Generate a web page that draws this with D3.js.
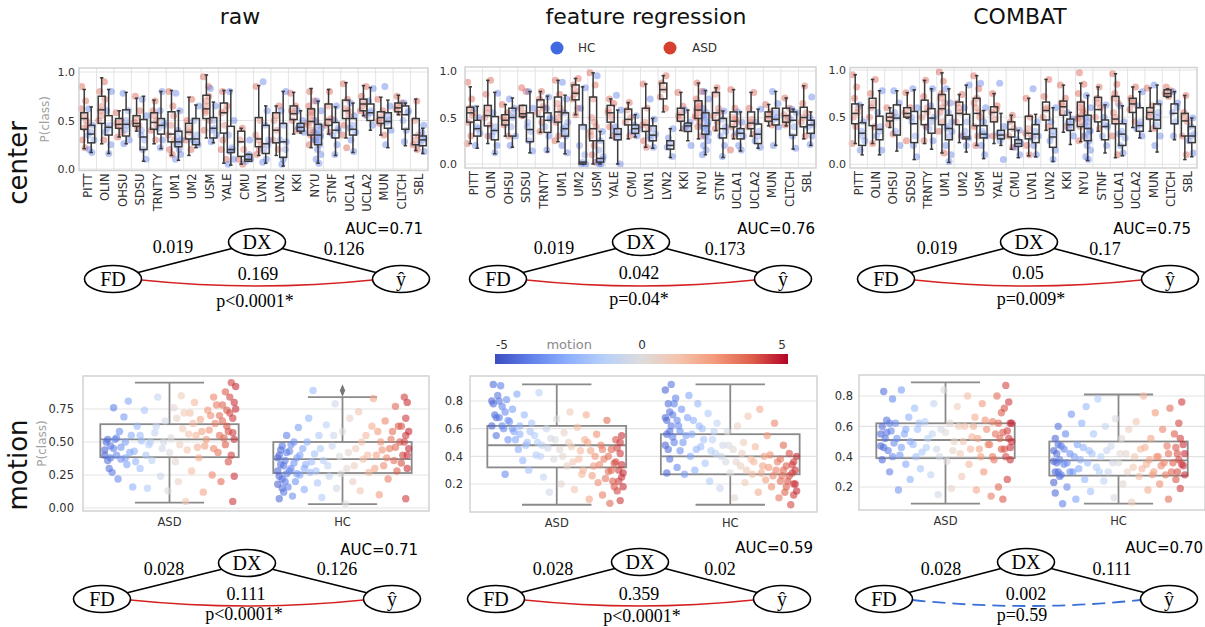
<!DOCTYPE html>
<html><head><meta charset="utf-8">
<script src="https://cdn.jsdelivr.net/npm/d3@7"></script>
<style>body{margin:0;background:#fff}svg{display:block}</style>
</head><body><svg id="c" width="1205" height="627"></svg>
<script>
// ---------------- DATA ----------------
const sites = ["PITT","OLIN","OHSU","SDSU","TRNTY","UM1","UM2","USM","YALE","CMU","LVN1","LVN2","KKI","NYU","STNF","UCLA1","UCLA2","MUN","CLTCH","SBL"];
const groups = ["ASD","HC"];
const panelTitles = ["raw","feature regression","COMBAT"];
const rowLabels = ["center","motion"];
const topTicks = [0,0.5,1.0];
const rawTicks = [0,0.25,0.5,0.75];
const corrTicks = [0.2,0.4,0.6,0.8];
const motionTicks = [-5,0,5];

// box stats per site: [min, q1, median, q3, max]
const rawASD = [[0.21,0.41,0.52,0.58,0.82],[0.26,0.47,0.61,0.75,0.94],[0.33,0.42,0.46,0.52,0.60],[0.39,0.44,0.47,0.55,0.73],[0.26,0.41,0.48,0.58,0.71],[0.14,0.28,0.36,0.59,0.81],[0.14,0.31,0.38,0.47,0.74],[0.32,0.52,0.62,0.76,0.97],[0.06,0.37,0.58,0.68,0.81],[0.05,0.13,0.28,0.39,0.42],[0.14,0.23,0.31,0.53,0.86],[0.14,0.27,0.40,0.58,0.65],[0.36,0.51,0.57,0.65,0.79],[0.22,0.35,0.49,0.62,0.83],[0.36,0.45,0.51,0.67,0.82],[0.32,0.52,0.60,0.71,0.89],[0.55,0.60,0.67,0.72,0.86],[0.35,0.47,0.53,0.59,0.74],[0.56,0.59,0.63,0.68,0.76],[0.19,0.25,0.35,0.52,0.72]];
const rawHC = [[0.17,0.27,0.36,0.45,0.64],[0.16,0.35,0.43,0.55,0.82],[0.26,0.34,0.46,0.61,0.79],[0.08,0.20,0.33,0.51,0.75],[0.21,0.36,0.45,0.52,0.80],[0.09,0.23,0.28,0.39,0.60],[0.22,0.25,0.31,0.52,0.66],[0.27,0.32,0.42,0.53,0.69],[0.04,0.17,0.20,0.44,0.81],[0.08,0.08,0.10,0.15,0.15],[0.06,0.16,0.26,0.45,0.65],[0.03,0.12,0.28,0.47,0.80],[0.37,0.39,0.43,0.47,0.60],[0.06,0.25,0.35,0.46,0.70],[0.14,0.32,0.40,0.48,0.64],[0.17,0.35,0.41,0.52,0.68],[0.40,0.50,0.58,0.67,0.84],[0.22,0.42,0.49,0.58,0.71],[0.24,0.41,0.56,0.65,0.68],[0.16,0.24,0.30,0.34,0.42]];
const featASD = [[0.22,0.45,0.55,0.61,0.83],[0.22,0.41,0.52,0.63,0.90],[0.30,0.42,0.47,0.53,0.64],[0.50,0.51,0.54,0.63,0.63],[0.34,0.51,0.61,0.69,0.78],[0.24,0.45,0.56,0.72,0.90],[0.53,0.69,0.76,0.85,0.92],[0.00,0.25,0.38,0.72,0.98],[0.28,0.45,0.55,0.63,0.70],[0.27,0.42,0.48,0.59,0.66],[0.18,0.35,0.42,0.60,0.86],[0.56,0.70,0.80,0.87,0.95],[0.36,0.46,0.53,0.60,0.77],[0.27,0.49,0.58,0.68,0.87],[0.36,0.47,0.55,0.77,0.82],[0.27,0.40,0.46,0.56,0.80],[0.30,0.38,0.44,0.56,0.77],[0.41,0.46,0.51,0.56,0.64],[0.41,0.45,0.52,0.60,0.71],[0.27,0.40,0.50,0.61,0.84]];
const featHC = [[0.17,0.30,0.38,0.47,0.62],[0.11,0.26,0.36,0.51,0.77],[0.18,0.30,0.50,0.60,0.71],[0.12,0.24,0.37,0.55,0.78],[0.13,0.34,0.47,0.55,0.73],[0.11,0.30,0.38,0.55,0.74],[0.00,0.00,0.02,0.42,0.83],[0.00,0.02,0.06,0.25,0.35],[0.00,0.26,0.32,0.38,0.58],[0.29,0.33,0.38,0.42,0.53],[0.17,0.25,0.31,0.41,0.49],[0.07,0.16,0.20,0.25,0.38],[0.25,0.35,0.41,0.44,0.58],[0.10,0.32,0.41,0.55,0.79],[0.07,0.28,0.38,0.49,0.57],[0.14,0.27,0.33,0.38,0.56],[0.17,0.22,0.32,0.43,0.59],[0.20,0.42,0.48,0.60,0.78],[0.16,0.31,0.47,0.56,0.59],[0.20,0.33,0.42,0.47,0.56]];
const combatASD = [[0.22,0.43,0.54,0.64,0.95],[0.22,0.41,0.60,0.70,0.90],[0.39,0.46,0.50,0.54,0.60],[0.49,0.50,0.54,0.60,0.76],[0.22,0.42,0.56,0.68,0.89],[0.12,0.42,0.59,0.74,0.97],[0.23,0.42,0.54,0.66,0.74],[0.20,0.41,0.54,0.70,0.94],[0.22,0.45,0.55,0.61,0.75],[0.16,0.29,0.37,0.45,0.52],[0.09,0.27,0.33,0.51,0.70],[0.36,0.47,0.57,0.66,0.90],[0.34,0.52,0.61,0.67,0.84],[0.24,0.40,0.51,0.66,0.86],[0.35,0.45,0.58,0.71,0.82],[0.07,0.43,0.48,0.72,0.96],[0.39,0.55,0.64,0.70,0.82],[0.35,0.48,0.55,0.60,0.81],[0.71,0.72,0.75,0.79,0.80],[0.05,0.30,0.46,0.54,0.73]];
const combatHC = [[0.10,0.20,0.33,0.44,0.63],[0.10,0.26,0.37,0.51,0.78],[0.14,0.31,0.49,0.63,0.78],[0.05,0.23,0.43,0.56,0.79],[0.16,0.33,0.49,0.59,0.80],[0.02,0.26,0.38,0.52,0.80],[0.13,0.27,0.29,0.53,0.84],[0.06,0.28,0.32,0.41,0.57],[0.20,0.27,0.31,0.36,0.54],[0.07,0.19,0.22,0.26,0.36],[0.08,0.23,0.32,0.42,0.53],[0.03,0.18,0.29,0.38,0.60],[0.21,0.36,0.42,0.48,0.55],[0.04,0.25,0.38,0.52,0.73],[0.12,0.26,0.40,0.47,0.63],[0.09,0.20,0.32,0.43,0.62],[0.28,0.35,0.41,0.60,0.77],[0.13,0.38,0.47,0.64,0.84],[0.26,0.43,0.54,0.64,0.77],[0.08,0.23,0.30,0.40,0.49]];

// individual subject points per site (P(class))
const rawASDpts = [[0.85,0.7,0.55,0.45,0.3,0.22,0.62,0.5,0.42],[0.9,0.8,0.65,0.5,0.3,0.55,0.6,0.72],[0.58,0.5,0.44,0.33,0.38,0.47],[0.75,0.6,0.48,0.42,0.52,0.45],[0.7,0.6,0.5,0.4,0.3,0.55,0.45],[0.8,0.65,0.45,0.3,0.2,0.15,0.35,0.55],[0.72,0.5,0.38,0.3,0.2,0.42],[0.95,0.85,0.7,0.6,0.5,0.4,0.65,0.58,0.75],[0.8,0.65,0.58,0.45,0.3,0.1,0.2,0.6],[0.42,0.3,0.2,0.1,0.05],[0.85,0.5,0.3,0.25,0.15,0.2,0.35],[0.65,0.5,0.4,0.3,0.2,0.55],[0.78,0.65,0.58,0.5,0.4,0.6],[0.8,0.7,0.65,0.6,0.55,0.5,0.45,0.4,0.35,0.3,0.25,0.58,0.48,0.38],[0.8,0.65,0.52,0.45,0.38,0.5],[0.88,0.72,0.62,0.55,0.45,0.22,0.35,0.6],[0.85,0.75,0.68,0.6,0.56,0.65],[0.72,0.6,0.53,0.47,0.35,0.5],[0.75,0.68,0.62,0.58,0.65],[0.7,0.5,0.35,0.25,0.2,0.3]];
const rawHCpts = [[0.62,0.45,0.38,0.3,0.2,0.17,0.35],[0.8,0.6,0.45,0.38,0.25,0.16,0.42],[0.78,0.6,0.5,0.4,0.3,0.26,0.45],[0.72,0.55,0.4,0.3,0.2,0.1,0.35],[0.8,0.6,0.48,0.42,0.3,0.22,0.45],[0.78,0.6,0.4,0.3,0.25,0.2,0.1,0.15,0.28,0.33],[0.65,0.5,0.35,0.3,0.25,0.28],[0.83,0.65,0.5,0.4,0.35,0.28,0.42],[0.8,0.5,0.35,0.22,0.18,0.1,0.05,0.2],[0.15,0.12,0.1,0.08,0.3],[0.9,0.6,0.45,0.3,0.2,0.1,0.07,0.25],[0.8,0.6,0.45,0.3,0.2,0.1,0.05,0.28],[0.6,0.5,0.45,0.42,0.38,0.43],[0.7,0.6,0.5,0.45,0.4,0.35,0.3,0.25,0.2,0.15,0.1,0.06,0.38,0.33,0.28,0.36,0.42,0.3],[0.65,0.5,0.42,0.35,0.25,0.15,0.4],[0.68,0.55,0.45,0.38,0.3,0.18,0.42],[0.83,0.7,0.6,0.55,0.45,0.58],[0.85,0.65,0.55,0.48,0.4,0.25,0.5],[0.68,0.6,0.5,0.4,0.28,0.58],[0.45,0.38,0.32,0.26,0.18,0.3]];
const featASDpts = [[0.88,0.7,0.6,0.55,0.45,0.3,0.22,0.52],[0.9,0.75,0.6,0.5,0.42,0.3,0.55],[0.64,0.55,0.47,0.42,0.3,0.5],[0.82,0.78,0.6,0.54,0.52],[0.78,0.7,0.62,0.55,0.45,0.35,0.6],[0.9,0.75,0.65,0.55,0.45,0.3,0.25,0.6,0.5],[0.92,0.85,0.78,0.7,0.6,0.53,0.75],[0.98,0.85,0.7,0.5,0.4,0.3,0.2,0.1,0.02,0.35,0.45],[0.7,0.65,0.58,0.5,0.4,0.3,0.55],[0.66,0.58,0.5,0.45,0.3],[0.86,0.6,0.45,0.38,0.25,0.18,0.42],[0.95,0.87,0.8,0.72,0.6],[0.77,0.62,0.55,0.48,0.38,0.52],[0.87,0.78,0.7,0.65,0.6,0.55,0.5,0.45,0.4,0.3,0.58,0.62,0.52],[0.82,0.75,0.6,0.52,0.45,0.38,0.55],[0.8,0.6,0.5,0.45,0.4,0.3,0.15,0.48],[0.77,0.6,0.48,0.4,0.32,0.45],[0.64,0.56,0.52,0.48,0.42],[0.71,0.6,0.53,0.47,0.42,0.5],[0.84,0.65,0.55,0.45,0.3,0.5]];
const featHCpts = [[0.6,0.5,0.4,0.33,0.2,0.38],[0.76,0.55,0.4,0.3,0.2,0.12,0.35],[0.7,0.6,0.5,0.4,0.3,0.2,0.55],[0.78,0.6,0.45,0.35,0.25,0.14,0.4],[0.72,0.6,0.5,0.4,0.3,0.15,0.48],[0.88,0.7,0.55,0.45,0.38,0.3,0.2,0.12,0.4,0.35],[0.82,0.6,0.4,0.2,0.1,0.02,0.0,0.0],[0.95,0.35,0.25,0.15,0.08,0.03,0.0,0.0,0.05],[0.74,0.58,0.4,0.33,0.28,0.0,0.35],[0.52,0.42,0.38,0.35,0.3],[0.7,0.48,0.38,0.32,0.27,0.18,0.3],[0.38,0.28,0.22,0.18,0.08],[0.58,0.45,0.42,0.38,0.2,0.4],[0.78,0.7,0.6,0.55,0.5,0.45,0.4,0.36,0.3,0.25,0.2,0.15,0.1,0.42,0.38,0.48,0.33,0.52],[0.57,0.48,0.4,0.3,0.2,0.08,0.35],[0.56,0.45,0.36,0.3,0.2,0.15,0.33],[0.59,0.45,0.35,0.25,0.18,0.3],[0.78,0.65,0.55,0.48,0.4,0.2,0.5],[0.59,0.55,0.48,0.4,0.3,0.17],[0.72,0.5,0.45,0.4,0.3,0.21,0.42]];
const combatASDpts = [[0.95,0.82,0.7,0.6,0.5,0.4,0.22,0.55],[0.9,0.75,0.65,0.5,0.4,0.22,0.6],[0.6,0.52,0.48,0.42,0.32],[0.76,0.6,0.55,0.51,0.25],[0.89,0.72,0.6,0.5,0.4,0.25,0.55],[0.98,0.88,0.75,0.65,0.55,0.45,0.35,0.12,0.6,0.7],[0.74,0.65,0.55,0.45,0.3,0.6],[0.94,0.8,0.7,0.6,0.5,0.4,0.3,0.2,0.55,0.65],[0.75,0.62,0.55,0.48,0.3,0.58],[0.52,0.45,0.38,0.3,0.18],[0.7,0.5,0.38,0.3,0.2,0.1,0.33],[0.9,0.72,0.6,0.5,0.4,0.58],[0.84,0.7,0.62,0.55,0.4,0.65],[0.97,0.85,0.75,0.65,0.6,0.55,0.5,0.45,0.4,0.3,0.25,0.52,0.48,0.58],[0.82,0.7,0.6,0.5,0.38,0.65],[0.96,0.85,0.75,0.65,0.55,0.45,0.3,0.1,0.5,0.7],[0.82,0.7,0.64,0.58,0.45,0.66],[0.81,0.62,0.55,0.5,0.38],[0.82,0.78,0.75,0.72],[0.73,0.55,0.45,0.3,0.1,0.5]];
const combatHCpts = [[0.63,0.45,0.35,0.25,0.15,0.3],[0.78,0.55,0.4,0.3,0.15,0.35],[0.78,0.65,0.5,0.35,0.2,0.55],[0.8,0.6,0.45,0.3,0.2,0.08,0.5],[0.8,0.62,0.5,0.38,0.25,0.45],[0.8,0.65,0.55,0.45,0.38,0.3,0.2,0.1,0.03,0.4,0.35],[0.84,0.6,0.45,0.3,0.28,0.2,0.35],[0.86,0.6,0.45,0.35,0.3,0.2,0.1,0.32],[0.86,0.4,0.33,0.3,0.25,0.05],[0.36,0.26,0.22,0.18,0.1],[0.8,0.45,0.35,0.3,0.2,0.1,0.28],[0.6,0.45,0.35,0.25,0.15,0.05,0.3],[0.55,0.48,0.42,0.38,0.3,0.44],[0.73,0.6,0.5,0.45,0.4,0.35,0.3,0.25,0.2,0.15,0.08,0.05,0.42,0.36,0.32,0.48],[0.63,0.5,0.4,0.3,0.2,0.42],[0.62,0.45,0.35,0.28,0.2,0.12,0.32],[0.77,0.62,0.45,0.38,0.3,0.42],[0.84,0.65,0.5,0.42,0.3,0.2,0.55],[0.77,0.65,0.55,0.45,0.3,0.6],[0.49,0.4,0.32,0.25,0.12,0.3]];

// motion row: box stats [min,q1,med,q3,max] for ASD, HC
const rawMotionBox = [[0.04,0.385,0.52,0.635,0.95],[0.03,0.265,0.37,0.50,0.84]];
const featMotionBox = [[0.05,0.32,0.48,0.62,0.92],[0.05,0.27,0.40,0.56,0.92]];
const combatMotionBox = [[0.09,0.39,0.51,0.62,0.89],[0.09,0.275,0.375,0.50,0.81]];
const rawMotionOutliers = [[], [0.89]];
// motion row subjects: [motion, P(class)]
const rawMotionASD = [[-4.4,0.44],[-4.3,0.50],[-4.2,0.36],[-4.1,0.30],[-4.0,0.47],[-3.9,0.27],[-3.8,0.76],[-3.7,0.52],[-3.6,0.40],[-3.5,0.22],[-3.4,0.58],[-3.3,0.46],[-3.1,0.69],[-3.0,0.38],[-2.9,0.33],[-2.8,0.81],[-2.6,0.55],[-2.5,0.16],[-2.4,0.43],[-2.2,0.62],[-2.0,0.30],[-1.9,0.51],[-1.7,0.74],[-1.5,0.15],[-1.4,0.48],[-1.2,0.36],[-1.0,0.57],[-0.8,0.84],[-0.6,0.24],[-0.5,0.45],[-0.3,0.66],[-0.1,0.13],[0.1,0.53],[0.3,0.76],[0.4,0.35],[0.6,0.20],[0.8,0.85],[0.9,0.60],[1.1,0.05],[1.2,0.44],[1.4,0.72],[1.5,0.28],[1.7,0.80],[1.8,0.55],[2.0,0.38],[2.1,0.67],[2.3,0.12],[2.4,0.47],[2.6,0.74],[2.7,0.59],[2.9,0.25],[3.0,0.84],[3.1,0.64],[3.3,0.42],[3.4,0.70],[3.5,0.20],[3.6,0.78],[3.7,0.53],[3.8,0.88],[3.9,0.62],[4.0,0.35],[4.1,0.72],[4.2,0.95],[4.3,0.05],[4.3,0.57],[4.4,0.80],[4.4,0.24],[4.5,0.92],
  [-4.4,0.40],[-4.2,0.52],[-4.0,0.38],[-3.8,0.45],[-3.6,0.53],[-3.3,0.37],[-3.0,0.50],[-2.7,0.42],[-2.3,0.35],[-2.0,0.55],[-1.6,0.40],[-1.3,0.50],[-0.9,0.62],[-0.4,0.50],[0.0,0.42],[0.5,0.68],[0.7,0.48],[1.0,0.72],[1.3,0.56],[1.6,0.64],[1.9,0.46],[2.2,0.58],[2.5,0.52],[2.8,0.70],[3.0,0.45],[3.2,0.78],[3.4,0.55],[3.6,0.66],[3.8,0.48],[3.9,0.74],[4.0,0.58],[4.1,0.84],[4.2,0.40],[4.3,0.68],[4.4,0.52],[4.5,0.75]];
const rawMotionHC = [[-4.4,0.28],[-4.4,0.18],[-4.3,0.40],[-4.3,0.07],[-4.2,0.33],[-4.1,0.22],[-4.1,0.47],[-4.0,0.12],[-3.9,0.36],[-3.8,0.26],[-3.8,0.55],[-3.7,0.16],[-3.6,0.43],[-3.5,0.30],[-3.4,0.09],[-3.3,0.50],[-3.2,0.20],[-3.1,0.38],[-3.0,0.61],[-2.9,0.25],[-2.7,0.45],[-2.6,0.14],[-2.5,0.33],[-2.3,0.68],[-2.2,0.27],[-2.0,0.89],[-1.9,0.41],[-1.7,0.19],[-1.6,0.55],[-1.4,0.08],[-1.3,0.36],[-1.1,0.63],[-0.9,0.24],[-0.7,0.47],[-0.5,0.79],[-0.4,0.15],[-0.2,0.39],[0.0,0.58],[0.2,0.03],[0.3,0.30],[0.5,0.68],[0.7,0.20],[0.9,0.45],[1.1,0.73],[1.2,0.13],[1.4,0.37],[1.6,0.55],[1.8,0.27],[2.0,0.62],[2.1,0.83],[2.3,0.40],[2.5,0.10],[2.6,0.50],[2.8,0.32],[2.9,0.66],[3.1,0.22],[3.2,0.45],[3.4,0.58],[3.5,0.36],[3.6,0.77],[3.7,0.28],[3.9,0.50],[4.0,0.62],[4.1,0.40],[4.2,0.84],[4.3,0.07],[4.3,0.55],[4.4,0.30],[4.4,0.80],[4.5,0.45],
  [-4.4,0.38],[-4.3,0.24],[-4.2,0.44],[-4.1,0.15],[-4.0,0.32],[-3.9,0.20],[-3.8,0.42],[-3.6,0.28],[-3.5,0.48],[-3.3,0.34],[-3.1,0.26],[-2.9,0.40],[-2.6,0.30],[-2.4,0.50],[-2.1,0.35],[-1.8,0.28],[-1.5,0.45],[-1.0,0.32],[-0.6,0.55],[-0.1,0.26],[0.4,0.42],[0.8,0.32],[1.3,0.50],[1.7,0.40],[2.2,0.30],[2.4,0.58],[2.7,0.44],[3.0,0.38],[3.3,0.52],[3.6,0.46],[3.8,0.62],[4.0,0.34],[4.2,0.50],[4.3,0.68],[4.4,0.40],[4.5,0.58]];
const featMotionASD = [[-4.4,0.80],[-4.4,0.62],[-4.3,0.92],[-4.2,0.70],[-4.1,0.55],[-4.0,0.84],[-3.9,0.68],[-3.8,0.91],[-3.7,0.76],[-3.6,0.60],[-3.5,0.27],[-3.4,0.81],[-3.3,0.52],[-3.2,0.65],[-3.0,0.74],[-2.9,0.58],[-2.7,0.85],[-2.6,0.45],[-2.5,0.62],[-2.3,0.37],[-2.2,0.70],[-2.0,0.50],[-1.9,0.30],[-1.7,0.64],[-1.5,0.55],[-1.4,0.41],[-1.2,0.86],[-1.0,0.48],[-0.9,0.25],[-0.7,0.60],[-0.5,0.14],[-0.4,0.53],[-0.2,0.38],[0.0,0.67],[0.2,0.45],[0.3,0.20],[0.5,0.57],[0.7,0.33],[0.9,0.72],[1.0,0.47],[1.2,0.16],[1.4,0.61],[1.5,0.38],[1.7,0.27],[1.9,0.52],[2.0,0.70],[2.2,0.09],[2.3,0.44],[2.5,0.33],[2.7,0.56],[2.8,0.21],[3.0,0.48],[3.1,0.12],[3.2,0.38],[3.4,0.66],[3.5,0.29],[3.6,0.06],[3.7,0.45],[3.8,0.22],[3.9,0.35],[4.0,0.52],[4.1,0.15],[4.2,0.30],[4.3,0.42],[4.3,0.08],[4.4,0.25],[4.4,0.55],[4.5,0.18],
  [-4.3,0.78],[-4.1,0.68],[-3.9,0.80],[-3.7,0.62],[-3.5,0.72],[-3.3,0.66],[-3.0,0.60],[-2.8,0.52],[-2.5,0.56],[-2.1,0.48],[-1.8,0.58],[-1.3,0.50],[-1.1,0.40],[-0.6,0.46],[-0.1,0.52],[0.4,0.40],[0.8,0.50],[1.1,0.36],[1.6,0.44],[1.8,0.30],[2.1,0.50],[2.4,0.26],[2.6,0.40],[2.9,0.34],[3.1,0.45],[3.3,0.24],[3.5,0.40],[3.7,0.30],[3.9,0.18],[4.0,0.36],[4.1,0.46],[4.2,0.22],[4.3,0.50],[4.4,0.34],[4.5,0.28]];
const featMotionHC = [[-4.4,0.88],[-4.4,0.48],[-4.3,0.66],[-4.3,0.28],[-4.2,0.78],[-4.1,0.58],[-4.1,0.38],[-4.0,0.92],[-3.9,0.70],[-3.8,0.50],[-3.7,0.82],[-3.6,0.32],[-3.5,0.62],[-3.4,0.44],[-3.3,0.74],[-3.1,0.27],[-3.0,0.55],[-2.8,0.84],[-2.7,0.40],[-2.5,0.66],[-2.4,0.30],[-2.2,0.78],[-2.0,0.47],[-1.9,0.60],[-1.7,0.35],[-1.5,0.71],[-1.4,0.22],[-1.2,0.52],[-1.0,0.42],[-0.9,0.64],[-0.7,0.17],[-0.5,0.48],[-0.3,0.36],[-0.2,0.58],[0.0,0.28],[0.2,0.45],[0.3,0.10],[0.5,0.62],[0.7,0.33],[0.9,0.50],[1.0,0.21],[1.2,0.69],[1.4,0.38],[1.5,0.27],[1.7,0.47],[1.9,0.14],[2.0,0.74],[2.2,0.33],[2.4,0.23],[2.5,0.55],[2.7,0.41],[2.8,0.18],[3.0,0.64],[3.1,0.30],[3.3,0.10],[3.4,0.38],[3.5,0.26],[3.6,0.48],[3.7,0.14],[3.8,0.33],[3.9,0.22],[4.0,0.42],[4.1,0.05],[4.2,0.28],[4.3,0.36],[4.3,0.12],[4.4,0.20],[4.5,0.40],
  [-4.4,0.68],[-4.3,0.56],[-4.2,0.45],[-4.1,0.72],[-4.0,0.62],[-3.9,0.54],[-3.8,0.78],[-3.6,0.66],[-3.4,0.58],[-3.2,0.50],[-2.9,0.68],[-2.6,0.56],[-2.3,0.45],[-2.1,0.62],[-1.8,0.52],[-1.3,0.44],[-1.1,0.58],[-0.6,0.40],[-0.1,0.48],[0.4,0.36],[0.8,0.42],[1.1,0.30],[1.6,0.36],[2.1,0.28],[2.3,0.40],[2.6,0.32],[2.9,0.26],[3.2,0.36],[3.4,0.22],[3.6,0.30],[3.8,0.18],[4.0,0.26],[4.2,0.34],[4.3,0.20],[4.4,0.30],[4.5,0.15]];
const combatMotionASD = [[-4.4,0.47],[-4.3,0.60],[-4.3,0.38],[-4.2,0.83],[-4.1,0.52],[-4.0,0.64],[-3.9,0.44],[-3.8,0.30],[-3.7,0.57],[-3.6,0.78],[-3.5,0.49],[-3.4,0.62],[-3.2,0.18],[-3.1,0.41],[-3.0,0.84],[-2.8,0.55],[-2.7,0.35],[-2.5,0.66],[-2.4,0.25],[-2.2,0.48],[-2.1,0.72],[-1.9,0.58],[-1.7,0.32],[-1.6,0.43],[-1.4,0.63],[-1.2,0.52],[-1.0,0.28],[-0.8,0.75],[-0.6,0.45],[-0.5,0.15],[-0.3,0.58],[-0.1,0.84],[0.1,0.37],[0.3,0.62],[0.4,0.19],[0.6,0.50],[0.8,0.73],[1.0,0.42],[1.1,0.27],[1.3,0.60],[1.5,0.80],[1.6,0.35],[1.8,0.53],[2.0,0.66],[2.1,0.18],[2.3,0.45],[2.5,0.75],[2.6,0.30],[2.8,0.58],[2.9,0.48],[3.1,0.14],[3.2,0.63],[3.3,0.38],[3.5,0.80],[3.6,0.20],[3.7,0.52],[3.8,0.69],[3.9,0.12],[4.0,0.45],[4.1,0.87],[4.2,0.25],[4.2,0.57],[4.3,0.76],[4.4,0.38],[4.4,0.62],[4.5,0.50],
  [-4.4,0.55],[-4.2,0.46],[-4.0,0.56],[-3.8,0.62],[-3.6,0.40],[-3.3,0.52],[-3.0,0.46],[-2.7,0.58],[-2.4,0.50],[-2.0,0.40],[-1.8,0.62],[-1.3,0.46],[-0.9,0.55],[-0.4,0.40],[0.0,0.56],[0.5,0.44],[0.9,0.60],[1.2,0.50],[1.7,0.45],[1.9,0.60],[2.2,0.52],[2.4,0.40],[2.7,0.64],[3.0,0.48],[3.2,0.40],[3.4,0.55],[3.6,0.62],[3.8,0.45],[3.9,0.56],[4.0,0.72],[4.1,0.40],[4.3,0.52],[4.4,0.46],[4.5,0.62]];
const combatMotionHC = [[-4.4,0.37],[-4.4,0.23],[-4.3,0.52],[-4.3,0.16],[-4.2,0.42],[-4.1,0.30],[-4.1,0.60],[-4.0,0.27],[-3.9,0.47],[-3.8,0.09],[-3.7,0.35],[-3.6,0.55],[-3.5,0.20],[-3.3,0.42],[-3.2,0.68],[-3.1,0.30],[-2.9,0.12],[-2.8,0.48],[-2.6,0.38],[-2.5,0.62],[-2.3,0.25],[-2.2,0.73],[-2.0,0.44],[-1.9,0.17],[-1.7,0.55],[-1.5,0.33],[-1.4,0.78],[-1.2,0.40],[-1.0,0.24],[-0.9,0.60],[-0.7,0.30],[-0.5,0.47],[-0.3,0.13],[-0.2,0.65],[0.0,0.36],[0.2,0.52],[0.3,0.22],[0.5,0.42],[0.7,0.58],[0.9,0.10],[1.0,0.33],[1.2,0.63],[1.4,0.27],[1.5,0.45],[1.7,0.80],[1.9,0.35],[2.0,0.18],[2.2,0.52],[2.4,0.30],[2.5,0.69],[2.7,0.40],[2.8,0.22],[3.0,0.58],[3.1,0.36],[3.3,0.47],[3.4,0.12],[3.5,0.72],[3.6,0.30],[3.8,0.55],[3.9,0.25],[4.0,0.42],[4.1,0.62],[4.2,0.19],[4.3,0.35],[4.3,0.76],[4.4,0.48],[4.5,0.28],
  [-4.4,0.44],[-4.3,0.30],[-4.2,0.36],[-4.1,0.48],[-4.0,0.38],[-3.9,0.28],[-3.7,0.45],[-3.5,0.36],[-3.3,0.30],[-3.0,0.40],[-2.7,0.32],[-2.4,0.46],[-2.1,0.36],[-1.8,0.42],[-1.3,0.30],[-0.8,0.44],[-0.4,0.36],[0.1,0.42],[0.6,0.30],[1.1,0.40],[1.6,0.32],[1.8,0.46],[2.1,0.38],[2.3,0.28],[2.6,0.40],[2.9,0.34],[3.2,0.28],[3.4,0.42],[3.7,0.36],[3.9,0.46],[4.0,0.30],[4.1,0.38],[4.2,0.52],[4.4,0.34],[4.5,0.42]];

// causal diagrams (center row x3, motion row x3)
const edgeFD_DX = ["0.019","0.019","0.019","0.028","0.028","0.028"];
const edgeDX_Y  = ["0.126","0.173","0.17","0.126","0.02","0.111"];
const edgeFD_Y  = ["0.169","0.042","0.05","0.111","0.359","0.002"];
const pValues   = ["p<0.0001*","p=0.04*","p=0.009*","p<0.0001*","p<0.0001*","p=0.59"];
const aucValues = ["AUC=0.71","AUC=0.76","AUC=0.75","AUC=0.71","AUC=0.59","AUC=0.70"];
const significant = [true,true,true,true,true,false];

// ---------------- LAYOUT / STYLE ----------------
const svg = d3.select("#c");
const SANS = "DejaVu Sans, sans-serif", SERIF = "Liberation Serif, Times New Roman, serif";
const COL = {ASD:"#d6402e", HC:"#4169e1"};
const GRID = "#e3e3e3", FRAME = "#d2d2d2", TXT = "#303030";
const coolwarm = d3.scaleLinear()
  .domain([-5,-3.75,-2.5,-1.25,0,1.25,2.5,3.75,5])
  .range(["#3b4cc0","#6282ea","#8db0fe","#b8d0f9","#dddcdc","#f5c4ad","#f49a7b","#de604d","#b40426"])
  .clamp(true);
const JIT = [-2.6,1.4,-0.6,2.7,-1.9,0.7,-3.0,2.1,0.1,-1.3,3.1,-2.2,1.0,-0.9,2.4];

const topLayout = [
  {x0:79, x1:428, top:68, bot:170.5, y0:169, y1:72, pad:4, yl:true},
  {x0:465, x1:816, top:67, bot:168, y0:164, y1:71, pad:8},
  {x0:850, x1:1197, top:67.5, bot:168, y0:164.3, y1:70, pad:4}
];
const botLayout = [
  {x0:83, x1:429, top:376, bot:511, d:[0,0.75], r:[508,409], pad:9, ticks:rawTicks, fmt:".2f", yl:true},
  {x0:470, x1:817, top:376, bot:512, d:[0.2,0.8], r:[484,401], pad:7, ticks:corrTicks, fmt:".1f"},
  {x0:859, x1:1205, top:375, bot:510, d:[0.2,0.8], r:[487,396], pad:6, ticks:corrTicks, fmt:".1f"}
];
const diagLayout = [
  {fd:[113,279], dx:[257,242], yh:[401,279], auc:[423,234], w1:[173,253], w2:[344,255], w3:[258,280], p:[255,307]},
  {fd:[498,279], dx:[641,242], yh:[783,279], auc:[815,234], w1:[554,254], w2:[725,255], w3:[639,279], p:[639,305]},
  {fd:[886,279], dx:[1029,242], yh:[1170,279], auc:[1191,234], w1:[937,254], w2:[1105,255], w3:[1028,279], p:[1031,305]},
  {fd:[102,599], dx:[247,563], yh:[392,599], auc:[418,555], w1:[164,575], w2:[337,575], w3:[246,600], p:[244,620]},
  {fd:[496,599], dx:[640,562], yh:[782,599], auc:[813,553], w1:[553,575], w2:[720,575], w3:[639,600], p:[642,622]},
  {fd:[884,599], dx:[1026,562], yh:[1169,599], auc:[1203,553], w1:[941,575], w2:[1112,575], w3:[1026,600], p:[1022,621]}
];

// ---------------- TITLES ----------------
const titleX = [240, 646, 1020];
panelTitles.forEach((t,i)=>{
  svg.append("text").attr("x",titleX[i]).attr("y",24).attr("text-anchor","middle")
    .style("font-family",SANS).style("font-size","22px").style("fill","#111").text(t);
});
[[27,163],[27,465]].forEach((p,i)=>{
  svg.append("text").attr("transform",`translate(${p[0]},${p[1]}) rotate(-90)`).attr("text-anchor","middle")
    .style("font-family",SANS).style("font-size","26px").style("fill","#111").text(rowLabels[i]);
});

// ---------------- TOP ROW ----------------
function topPanel(L, asd, hc, asdPts, hcPts){
  const g = svg.append("g");
  const x = d3.scaleBand().domain(sites).range([L.x0,L.x1]);
  const y = d3.scaleLinear().domain([0,1]).range([L.y0,L.y1]);
  const bw = x.bandwidth();
  topTicks.forEach(t=>g.append("line").attr("x1",L.x0).attr("x2",L.x1).attr("y1",y(t)).attr("y2",y(t)).attr("stroke",GRID).attr("stroke-width",1));
  sites.slice(1).forEach(s=>g.append("line").attr("x1",x(s)).attr("x2",x(s)).attr("y1",L.top).attr("y2",L.bot).attr("stroke",GRID).attr("stroke-width",1));
  const sets = [[asd,asdPts,"ASD",0.3],[hc,hcPts,"HC",0.7]];
  sets.forEach(([bx,pts,grp,off])=>{
    sites.forEach((s,i)=>{
      const cx = x(s)+bw*off;
      g.selectAll(null).data(pts[i]).join("circle")
        .attr("cx",(d,j)=>cx+JIT[(j+i*3)%JIT.length]).attr("cy",d=>y(d)).attr("r",3.5)
        .attr("fill",COL[grp]).attr("fill-opacity",0.38);
    });
  });
  const w = bw*0.4;
  sets.forEach(([bx,pts,grp,off])=>{
    sites.forEach((s,i)=>{
      const b = bx[i], cx = x(s)+bw*off;
      const ln=(x1,y1,x2,y2)=>g.append("line").attr("x1",x1).attr("y1",y1).attr("x2",x2).attr("y2",y2).attr("stroke","#3a3a3a").attr("stroke-width",1.5);
      ln(cx,y(b[0]),cx,y(b[1])); ln(cx,y(b[3]),cx,y(b[4]));
      ln(cx-w/4,y(b[0]),cx+w/4,y(b[0])); ln(cx-w/4,y(b[4]),cx+w/4,y(b[4]));
      g.append("rect").attr("x",cx-w/2).attr("y",y(b[3])).attr("width",w).attr("height",Math.max(0.5,y(b[1])-y(b[3])))
        .attr("fill","#fff").attr("fill-opacity",0.25).attr("stroke","#3a3a3a").attr("stroke-width",1.5);
      ln(cx-w/2,y(b[2]),cx+w/2,y(b[2]));
    });
  });
  g.append("rect").attr("x",L.x0).attr("y",L.top).attr("width",L.x1-L.x0).attr("height",L.bot-L.top)
    .attr("fill","none").attr("stroke",FRAME).attr("stroke-width",1.5);
  const ya = g.append("g").attr("transform",`translate(${L.x0},0)`)
    .call(d3.axisLeft(y).tickValues(topTicks).tickFormat(d3.format(".1f")).tickSize(0).tickPadding(L.pad));
  ya.select(".domain").remove();
  ya.selectAll("text").style("font-family",SANS).style("font-size","11px").style("fill",TXT);
  const xa = g.append("g").attr("transform",`translate(0,${L.bot})`).call(d3.axisBottom(x).tickSize(0));
  xa.select(".domain").remove();
  xa.selectAll("text").attr("transform","rotate(-90)").attr("x",-3).attr("y",0).attr("dy","0.35em")
    .style("text-anchor","end").style("font-family",SANS).style("font-size","11.5px").style("fill",TXT);
  if(L.yl){
    g.append("text").attr("transform",`translate(49,${(L.top+L.bot)/2}) rotate(-90)`).attr("text-anchor","middle")
      .style("font-family",SANS).style("font-size","12px").style("fill","#a0a0a0").text("P(class)");
  }
}
topPanel(topLayout[0], rawASD, rawHC, rawASDpts, rawHCpts);
topPanel(topLayout[1], featASD, featHC, featASDpts, featHCpts);
topPanel(topLayout[2], combatASD, combatHC, combatASDpts, combatHCpts);

// legend
[["HC",557,578],["ASD",670,692]].forEach(([lab,cx,tx])=>{
  svg.append("circle").attr("cx",cx).attr("cy",48).attr("r",6.5).attr("fill",COL[lab]);
  svg.append("text").attr("x",tx).attr("y",52).style("font-family",SANS).style("font-size","12px").style("fill",TXT).text(lab);
});

// ---------------- BOTTOM ROW ----------------
function botPanel(L, boxes, ptsASD, ptsHC, outliers){
  const g = svg.append("g");
  const x = d3.scaleBand().domain(groups).range([L.x0,L.x1]);
  const y = d3.scaleLinear().domain(L.d).range(L.r);
  const bw = x.bandwidth(), w = bw*0.8;
  L.ticks.forEach(t=>g.append("line").attr("x1",L.x0).attr("x2",L.x1).attr("y1",y(t)).attr("y2",y(t)).attr("stroke",GRID).attr("stroke-width",1.2));
  const gray = "#8a8a8a";
  groups.forEach((grp,i)=>{
    const b = boxes[i], cx = x(grp)+bw/2;
    const ln=(x1,y1,x2,y2)=>g.append("line").attr("x1",x1).attr("y1",y1).attr("x2",x2).attr("y2",y2).attr("stroke",gray).attr("stroke-width",1.8);
    ln(cx,y(b[0]),cx,y(b[1])); ln(cx,y(b[3]),cx,y(b[4]));
    ln(cx-w/4,y(b[0]),cx+w/4,y(b[0])); ln(cx-w/4,y(b[4]),cx+w/4,y(b[4]));
    g.append("rect").attr("x",cx-w/2).attr("y",y(b[3])).attr("width",w).attr("height",y(b[1])-y(b[3]))
      .attr("fill","none").attr("stroke",gray).attr("stroke-width",1.8);
    ln(cx-w/2,y(b[2]),cx+w/2,y(b[2]));
    (outliers ? outliers[i] : []).forEach(o=>{
      g.append("path").attr("d",d3.symbol(d3.symbolDiamond).size(38)()).attr("transform",`translate(${cx},${y(o)}) scale(0.8,1.1)`).attr("fill","#777");
    });
    const mx = d3.scaleLinear().domain([-4.5,4.5]).range([cx-w/2+3,cx+w/2-3]);
    const pts = i===0 ? ptsASD : ptsHC;
    g.selectAll(null).data(pts).join("circle")
      .attr("cx",d=>mx(d[0])).attr("cy",d=>y(d[1])).attr("r",3.7)
      .attr("fill",d=>coolwarm(d[0])).attr("fill-opacity",0.6);
  });
  g.append("rect").attr("x",L.x0).attr("y",L.top).attr("width",L.x1-L.x0).attr("height",L.bot-L.top)
    .attr("fill","none").attr("stroke",FRAME).attr("stroke-width",1.5);
  const ya = g.append("g").attr("transform",`translate(${L.x0},0)`)
    .call(d3.axisLeft(y).tickValues(L.ticks).tickFormat(d3.format(L.fmt)).tickSize(0).tickPadding(L.pad));
  ya.select(".domain").remove();
  ya.selectAll("text").style("font-family",SANS).style("font-size","11.5px").style("fill",TXT);
  const xa = g.append("g").attr("transform",`translate(0,${L.bot})`).call(d3.axisBottom(x).tickSize(0).tickPadding(7));
  xa.select(".domain").remove();
  xa.selectAll("text").style("font-family",SANS).style("font-size","11.5px").style("fill",TXT);
  if(L.yl){
    g.append("text").attr("transform",`translate(46,${(L.top+L.bot)/2}) rotate(-90)`).attr("text-anchor","middle")
      .style("font-family",SANS).style("font-size","12px").style("fill","#a0a0a0").text("P(class)");
  }
}
botPanel(botLayout[0], rawMotionBox, rawMotionASD, rawMotionHC, rawMotionOutliers);
botPanel(botLayout[1], featMotionBox, featMotionASD, featMotionHC);
botPanel(botLayout[2], combatMotionBox, combatMotionASD, combatMotionHC);

// colorbar
const cb = {x:495, y:354, w:293, h:10};
const grad = svg.append("defs").append("linearGradient").attr("id","cw");
coolwarm.domain().forEach(v=>grad.append("stop").attr("offset",((v+5)/10*100)+"%").attr("stop-color",coolwarm(v)));
svg.append("rect").attr("x",cb.x).attr("y",cb.y).attr("width",cb.w).attr("height",cb.h).attr("fill","url(#cw)");
const cbx = d3.scaleLinear().domain([-5,5]).range([cb.x+7,cb.x+cb.w-6]);
motionTicks.forEach(t=>svg.append("text").attr("x",cbx(t)).attr("y",349).attr("text-anchor","middle")
  .style("font-family",SANS).style("font-size","12px").style("fill",TXT).text(t));
svg.append("text").attr("x",cbx(-2.6)).attr("y",349).attr("text-anchor","middle")
  .style("font-family",SANS).style("font-size","13px").style("fill","#8a8a8a").text("motion");

// ---------------- DIAGRAMS ----------------
function ellipseEdge(c, o, rx, ry){
  const dx=o[0]-c[0], dy=o[1]-c[1];
  const s = 1/Math.sqrt((dx/rx)**2+(dy/ry)**2);
  return [c[0]+dx*s, c[1]+dy*s];
}
diagLayout.forEach((D,i)=>{
  const g = svg.append("g");
  const rx=28.5, ry=13.5;
  const a = ellipseEdge(D.fd,D.dx,rx,ry), b = ellipseEdge(D.dx,D.fd,rx,ry);
  const c = ellipseEdge(D.dx,D.yh,rx,ry), d = ellipseEdge(D.yh,D.dx,rx,ry);
  g.append("line").attr("x1",a[0]).attr("y1",a[1]).attr("x2",b[0]).attr("y2",b[1]).attr("stroke","#000").attr("stroke-width",1.6);
  g.append("line").attr("x1",c[0]).attr("y1",c[1]).attr("x2",d[0]).attr("y2",d[1]).attr("stroke","#000").attr("stroke-width",1.6);
  const sx = D.fd[0]+rx, ex = D.yh[0]-rx, sy = D.fd[1]+1;
  const path = d3.path(); path.moveTo(sx,sy); path.quadraticCurveTo((sx+ex)/2, sy+12, ex, sy);
  g.append("path").attr("d",path.toString()).attr("fill","none")
    .attr("stroke", significant[i] ? "#d42020" : "#3b6fd8").attr("stroke-width", significant[i]?1.6:1.8)
    .attr("stroke-dasharray", significant[i] ? null : "13,7");
  [[D.fd,"FD"],[D.dx,"DX"],[D.yh,"ŷ"]].forEach(([p,t])=>{
    g.append("ellipse").attr("cx",p[0]).attr("cy",p[1]).attr("rx",rx).attr("ry",ry).attr("fill","#fff").attr("stroke","#000").attr("stroke-width",1.6);
    g.append("text").attr("x",p[0]).attr("y",p[1]+7).attr("text-anchor","middle")
      .style("font-family",SERIF).style("font-size","20px").style("fill","#000").text(t);
  });
  const lab=(p,t)=>g.append("text").attr("x",p[0]).attr("y",p[1]).attr("text-anchor","middle")
      .style("font-family",SERIF).style("font-size","18px").style("fill","#000").text(t);
  lab(D.w1, edgeFD_DX[i]); lab(D.w2, edgeDX_Y[i]); lab(D.w3, edgeFD_Y[i]); lab(D.p, pValues[i]);
  g.append("text").attr("x",D.auc[0]).attr("y",D.auc[1]).attr("text-anchor","end")
    .style("font-family",SANS).style("font-size","15px").style("fill","#000").text(aucValues[i]);
});
</script></body></html>
